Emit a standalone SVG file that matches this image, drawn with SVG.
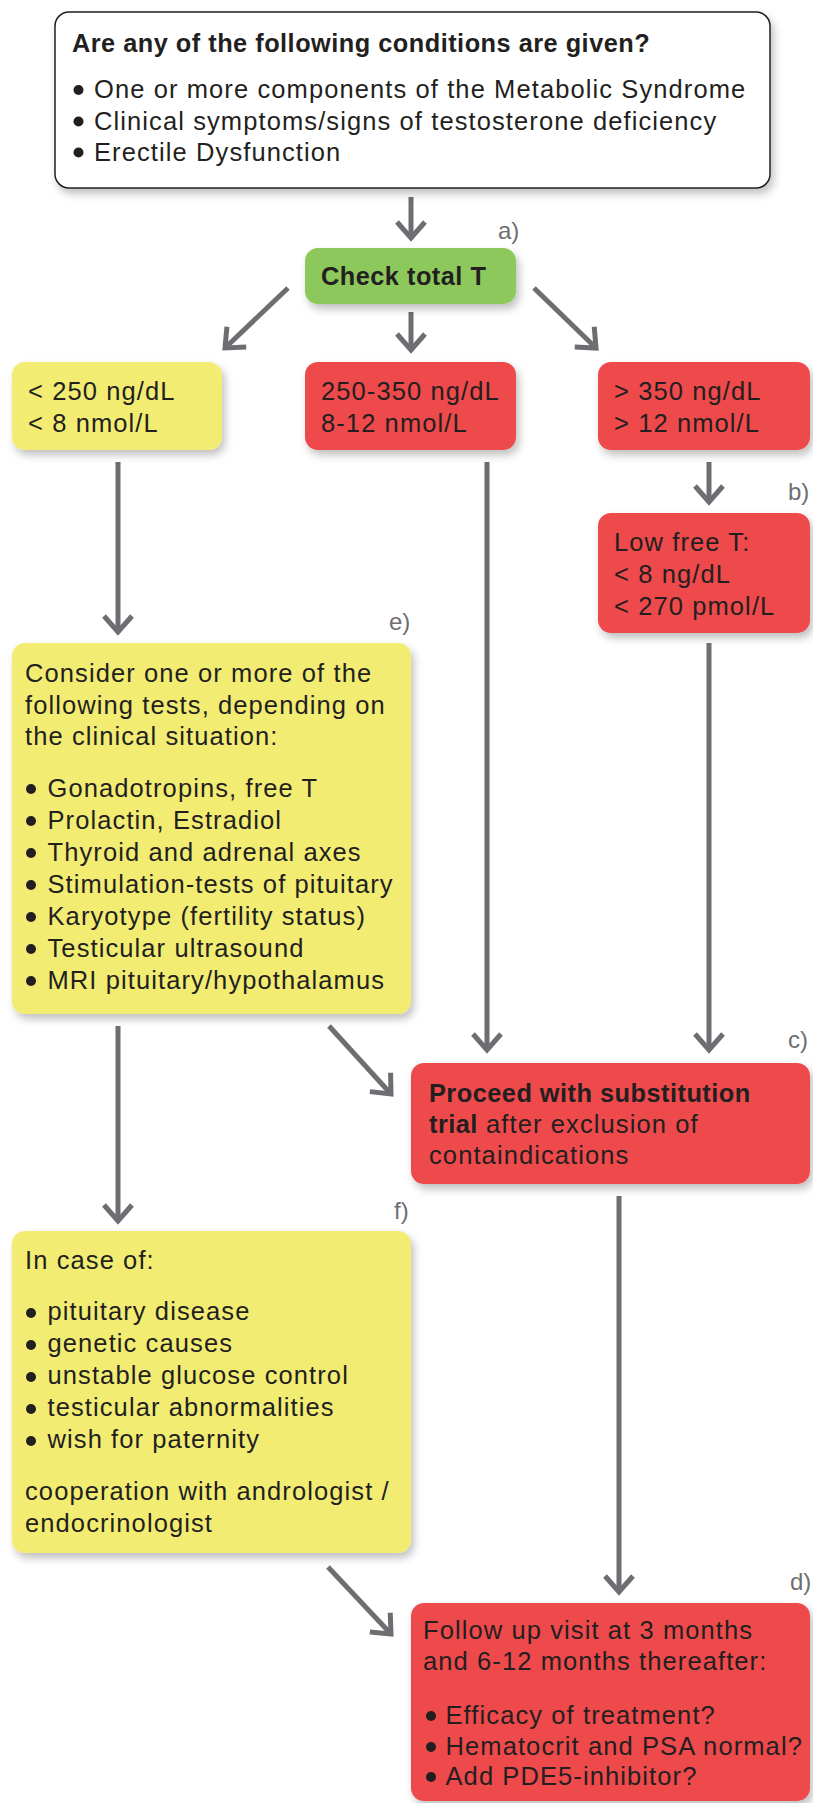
<svg xmlns="http://www.w3.org/2000/svg" width="813" height="1803" viewBox="0 0 813 1803">
<defs>
<filter id="sh" x="-10%" y="-10%" width="125%" height="130%">
<feDropShadow dx="3" dy="5" stdDeviation="4" flood-color="#000" flood-opacity="0.25"/>
</filter>
<marker id="ah" markerUnits="userSpaceOnUse" markerWidth="40" markerHeight="40" viewBox="-20 -20 40 40" refX="0" refY="0" orient="auto">
<path d="M-16,-14 L0,0 L-16,14" fill="none" stroke="#6d6e71" stroke-width="5" stroke-linejoin="miter" stroke-miterlimit="10"/>
</marker>
<style>
text{font-family:"Liberation Sans",Arial,Helvetica,sans-serif;font-size:25.5px;fill:#231f20;letter-spacing:1.1px}
.b{font-weight:bold;font-size:25.3px;letter-spacing:0.5px}
.lbl{fill:#6d6e71;font-size:24px;letter-spacing:0}
.y{fill:#f2ec73}
.r{fill:#ee4a4b}
.g{fill:#8dc85b}
.w{fill:#fff;stroke:#231f20;stroke-width:1.5}
.dot{fill:#231f20}
#connectors line{stroke:#6d6e71;stroke-width:5;marker-end:url(#ah)}
</style>
</defs>
<rect width="813" height="1803" fill="#fff"/>

<g id="connectors">
<line x1="411" y1="197" x2="411" y2="238"/>
<line x1="288" y1="288" x2="225" y2="348"/>
<line x1="411" y1="312" x2="411" y2="350"/>
<line x1="534" y1="288" x2="596" y2="348"/>
<line x1="118" y1="462" x2="118" y2="632"/>
<line x1="487" y1="462" x2="487" y2="1050"/>
<line x1="709" y1="462" x2="709" y2="502"/>
<line x1="709" y1="643" x2="709" y2="1050"/>
<line x1="118" y1="1026" x2="118" y2="1221"/>
<line x1="329" y1="1026" x2="391" y2="1094"/>
<line x1="619" y1="1196" x2="619" y2="1592"/>
<line x1="328" y1="1567" x2="391" y2="1634"/>
</g>

<g id="labels">
<text class="lbl" x="498" y="239">a)</text>
<text class="lbl" x="788" y="500">b)</text>
<text class="lbl" x="788" y="1048">c)</text>
<text class="lbl" x="790" y="1590">d)</text>
<text class="lbl" x="389" y="630">e)</text>
<text class="lbl" x="394" y="1219">f)</text>
</g>

<g id="start">
<rect class="w" x="55" y="12" width="715" height="176" rx="14" filter="url(#sh)"/>
<text class="b" x="72" y="52">Are any of the following conditions are given?</text>
<circle class="dot" cx="78.5" cy="90" r="5"/>
<text x="94" y="98">One or more components of the Metabolic Syndrome</text>
<circle class="dot" cx="78.5" cy="121.5" r="5"/>
<text x="94" y="129.5">Clinical symptoms/signs of testosterone deficiency</text>
<circle class="dot" cx="78.5" cy="152.5" r="5"/>
<text x="94" y="160.5">Erectile Dysfunction</text>
</g>

<g id="check">
<rect class="g" x="305" y="248" width="211" height="56" rx="13" filter="url(#sh)"/>
<text class="b" x="321" y="285">Check total T</text>
</g>

<g id="low">
<rect class="y" x="12" y="362" width="210" height="88" rx="13" filter="url(#sh)"/>
<text x="28" y="400">&lt; 250 ng/dL</text>
<text x="28" y="432">&lt; 8 nmol/L</text>
</g>

<g id="mid">
<rect class="r" x="305" y="362" width="211" height="88" rx="13" filter="url(#sh)"/>
<text x="321" y="400">250-350 ng/dL</text>
<text x="321" y="432">8-12 nmol/L</text>
</g>

<g id="high">
<rect class="r" x="598" y="362" width="212" height="88" rx="13" filter="url(#sh)"/>
<text x="614" y="400">&gt; 350 ng/dL</text>
<text x="614" y="432">&gt; 12 nmol/L</text>
</g>

<g id="freeT">
<rect class="r" x="598" y="513" width="212" height="120" rx="13" filter="url(#sh)"/>
<text x="614" y="551">Low free T:</text>
<text x="614" y="583">&lt; 8 ng/dL</text>
<text x="614" y="615">&lt; 270 pmol/L</text>
</g>

<g id="tests">
<rect class="y" x="12" y="643" width="399" height="371" rx="13" filter="url(#sh)"/>
<text x="25" y="682">Consider one or more of the</text>
<text x="25" y="714">following tests, depending on</text>
<text x="25" y="745">the clinical situation:</text>
<circle class="dot" cx="31" cy="789" r="5"/>
<text x="47.5" y="797">Gonadotropins, free T</text>
<circle class="dot" cx="31" cy="821" r="5"/>
<text x="47.5" y="829">Prolactin, Estradiol</text>
<circle class="dot" cx="31" cy="853" r="5"/>
<text x="47.5" y="861">Thyroid and adrenal axes</text>
<circle class="dot" cx="31" cy="885" r="5"/>
<text x="47.5" y="893">Stimulation-tests of pituitary</text>
<circle class="dot" cx="31" cy="917" r="5"/>
<text x="47.5" y="925">Karyotype (fertility status)</text>
<circle class="dot" cx="31" cy="949" r="5"/>
<text x="47.5" y="957">Testicular ultrasound</text>
<circle class="dot" cx="31" cy="981" r="5"/>
<text x="47.5" y="989">MRI pituitary/hypothalamus</text>
</g>

<g id="trial">
<rect class="r" x="411" y="1063" width="399" height="121" rx="13" filter="url(#sh)"/>
<text class="b" x="429" y="1102">Proceed with substitution</text>
<text x="429" y="1133"><tspan class="b">trial</tspan> after exclusion of</text>
<text x="429" y="1164">containdications</text>
</g>

<g id="cases">
<rect class="y" x="12" y="1231" width="399" height="322" rx="13" filter="url(#sh)"/>
<text x="25" y="1268.5">In case of:</text>
<circle class="dot" cx="31" cy="1313" r="5"/>
<text x="47.5" y="1320">pituitary disease</text>
<circle class="dot" cx="31" cy="1345" r="5"/>
<text x="47.5" y="1352">genetic causes</text>
<circle class="dot" cx="31" cy="1377" r="5"/>
<text x="47.5" y="1384">unstable glucose control</text>
<circle class="dot" cx="31" cy="1409" r="5"/>
<text x="47.5" y="1416">testicular abnormalities</text>
<circle class="dot" cx="31" cy="1441" r="5"/>
<text x="47.5" y="1448">wish for paternity</text>
<text x="25" y="1500">cooperation with andrologist /</text>
<text x="25" y="1532">endocrinologist</text>
</g>

<g id="followup">
<rect class="r" x="411" y="1603" width="399" height="198" rx="13" filter="url(#sh)"/>
<text x="423" y="1639">Follow up visit at 3 months</text>
<text x="423" y="1670">and 6-12 months thereafter:</text>
<circle class="dot" cx="431" cy="1716" r="5"/>
<text x="445.5" y="1724">Efficacy of treatment?</text>
<circle class="dot" cx="431" cy="1747" r="5"/>
<text x="445.5" y="1755">Hematocrit and PSA normal?</text>
<circle class="dot" cx="431" cy="1777" r="5"/>
<text x="445.5" y="1785">Add PDE5-inhibitor?</text>
</g>
</svg>
